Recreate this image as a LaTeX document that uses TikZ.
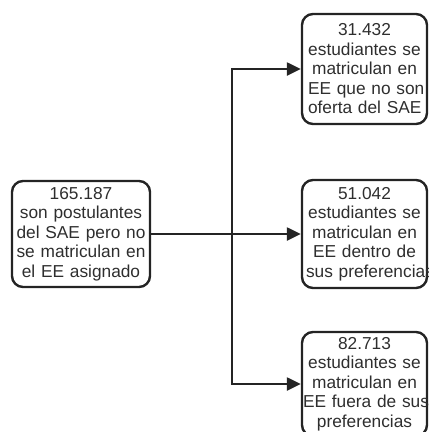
\documentclass[tikz,border=0pt]{standalone}
\usepackage{fontspec}
\setmainfont{Liberation Sans}
\usetikzlibrary{arrows.meta}
\definecolor{ink}{HTML}{242424}
\definecolor{txt}{HTML}{2E2E2E}
\begin{document}
\begin{tikzpicture}[x=1pt,y=-1pt,
  box/.style={draw=ink, line width=2.4pt, rounded corners=11pt, align=center,
    font=\fontsize{17.3}{19.5}\selectfont, text=txt, inner ysep=0pt},
  rbox/.style={box, text width=113pt, inner xsep=6pt},
  conn/.style={draw=ink, line width=2.4pt},
  arr/.style={conn, -{Triangle[length=14pt,width=13pt]}}]
\useasboundingbox (0,0) rectangle (429,432);
\node[box, text width=130pt, inner xsep=4pt, minimum height=106pt] (L) at (81,234)
  {\mbox{165.187}\\\mbox{son postulantes}\\\mbox{del SAE pero no}\\\mbox{se matriculan en}\\\mbox{el EE asignado}};
\node[rbox, minimum height=110pt] (T) at (364.5,69)
  {\mbox{31.432}\\\mbox{estudiantes se}\\\mbox{matriculan en}\\\mbox{EE que no son}\\\mbox{oferta del SAE}};
\node[rbox, minimum height=108pt] (M) at (364.5,234)
  {\mbox{51.042}\\\mbox{estudiantes se}\\\mbox{matriculan en}\\\mbox{EE dentro de}\\\hspace*{-2pt}\mbox{sus preferencias}};
\node[rbox, minimum height=104pt] (B) at (364.5,384)
  {\mbox{82.713}\\\mbox{estudiantes se}\\\mbox{matriculan en}\\\hspace*{-5pt}\mbox{EE fuera de sus}\\\mbox{preferencias}};
\coordinate (J) at (232,234);
\draw[conn] (L.east) -- (J);
\draw[arr] (J) |- (T.west);
\draw[arr] (J) -- (M.west);
\draw[arr] (J) |- (B.west);
\end{tikzpicture}
\end{document}
